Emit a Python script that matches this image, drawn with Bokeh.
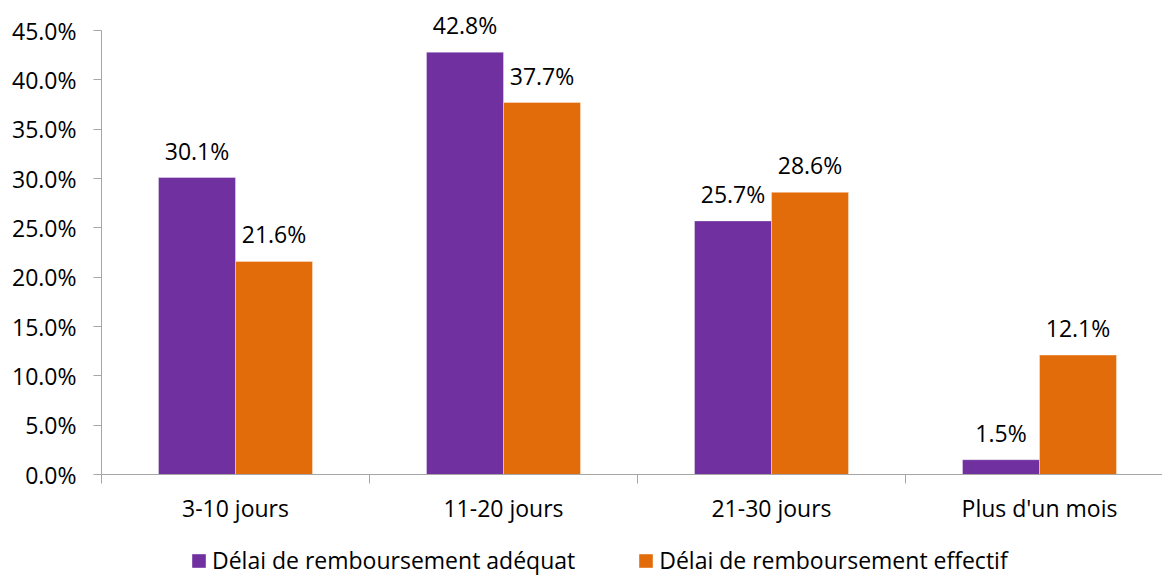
from bokeh.plotting import figure
from bokeh.layouts import column
from bokeh.models import Range1d, FixedTicker, PrintfTickFormatter, Legend, LegendItem, ColumnDataSource
from bokeh.core.properties import value
from bokeh.embed import file_html
from bokeh.resources import INLINE

categories = ["3-10 jours", "11-20 jours", "21-30 jours", "Plus d'un mois"]
adequat = [30.1, 42.8, 25.7, 1.5]
effectif = [21.6, 37.7, 28.6, 12.1]
series_names = ["Délai de remboursement adéquat", "Délai de remboursement effectif"]
y_ticks = [0, 5, 10, 15, 20, 25, 30, 35, 40, 45]

PURPLE = "#7030A0"
ORANGE = "#E36C0A"
FONT = "Open Sans"
FS = "23px"
AXIS = "#A6A6A6"

px_per_unit_y = 444 / 45
px_per_cat = 268
bw = 77 / px_per_cat
n = len(categories)
centers = [i + 0.5 for i in range(n)]
x_a = [c - bw / 2 for c in centers]
x_e = [c + bw / 2 for c in centers]

W = 1162
H1, H2 = 532, 44
left, top, bottom = 101, 5, 58
p = figure(width=W, height=H1, output_backend="svg", toolbar_location=None,
           x_range=Range1d(0, (W - left) / px_per_cat),
           y_range=Range1d(0, (H1 - top - bottom) / px_per_unit_y),
           min_border_left=left, min_border_top=top, min_border_bottom=bottom, min_border_right=0)
p.outline_line_color = None
p.xgrid.visible = False
p.ygrid.visible = False

src_a = ColumnDataSource(dict(x=x_a, top=adequat, lab=[f"{v:.1f}%" for v in adequat]))
src_e = ColumnDataSource(dict(x=x_e, top=effectif, lab=[f"{v:.1f}%" for v in effectif]))

p.vbar(x="x", top="top", width=bw, bottom=0, source=src_a, fill_color=PURPLE,
       line_color="#FFFFFF", line_alpha=0.35, line_width=1)
p.vbar(x="x", top="top", width=bw, bottom=0, source=src_e, fill_color=ORANGE,
       line_color="#FFFFFF", line_alpha=0.35, line_width=1)

for src in (src_a, src_e):
    p.text(x="x", y="top", text="lab", source=src, text_align="center", text_baseline="alphabetic",
           y_offset=-27, text_font=value(FONT), text_font_size=FS, text_color="#000000")

# y axis
ya = p.yaxis[0]
ya.ticker = FixedTicker(ticks=y_ticks)
ya.bounds = (0, 45)
ya.formatter = PrintfTickFormatter(format="%.1f%%")
ya.axis_line_color = AXIS
ya.major_tick_line_color = AXIS
ya.major_tick_in = 0
ya.major_tick_out = 8
ya.minor_tick_line_color = None
ya.major_label_text_font = FONT
ya.major_label_text_font_size = FS
ya.major_label_text_color = "#000000"
ya.major_label_standoff = 17

# x axis
xa = p.xaxis[0]
xa.ticker = FixedTicker(ticks=centers, minor_ticks=list(range(n)))
xa.major_label_overrides = {c: cat for c, cat in zip(centers, categories)}
xa.axis_line_color = AXIS
xa.major_tick_line_color = None
xa.major_tick_in = 0
xa.major_tick_out = 0
xa.minor_tick_line_color = AXIS
xa.minor_tick_in = 0
xa.minor_tick_out = 9
xa.major_label_text_font = FONT
xa.major_label_text_font_size = FS
xa.major_label_text_color = "#000000"
xa.major_label_standoff = 8

# legend strip (zero-height proxy bars only carry the legend swatch styles)
q = figure(width=W, height=H2, output_backend="svg", toolbar_location=None,
           x_axis_location=None, y_axis_location=None,
           x_range=Range1d(0, 1), y_range=Range1d(0, 1),
           min_border=0, min_border_left=0, min_border_right=0, min_border_top=0, min_border_bottom=0)
q.xgrid.visible = False
q.ygrid.visible = False
q.outline_line_color = None
la = q.vbar(x=[0.5], top=[0], bottom=0, width=0.01, fill_color=PURPLE, line_color=None)
le = q.vbar(x=[0.5], top=[0], bottom=0, width=0.01, fill_color=ORANGE, line_color=None)
legend = Legend(items=[LegendItem(label=series_names[0], renderers=[la]),
                       LegendItem(label=series_names[1], renderers=[le])],
                orientation="horizontal", location=(89, 0),
                glyph_width=17, glyph_height=17, label_standoff=5, spacing=62,
                padding=0, margin=0, border_line_color=None, background_fill_alpha=0,
                label_text_font=FONT, label_text_font_size=FS, label_text_color="#000000")
q.add_layout(legend, "center")

open("out.html", "w").write(file_html(column(p, q, spacing=0), INLINE))
